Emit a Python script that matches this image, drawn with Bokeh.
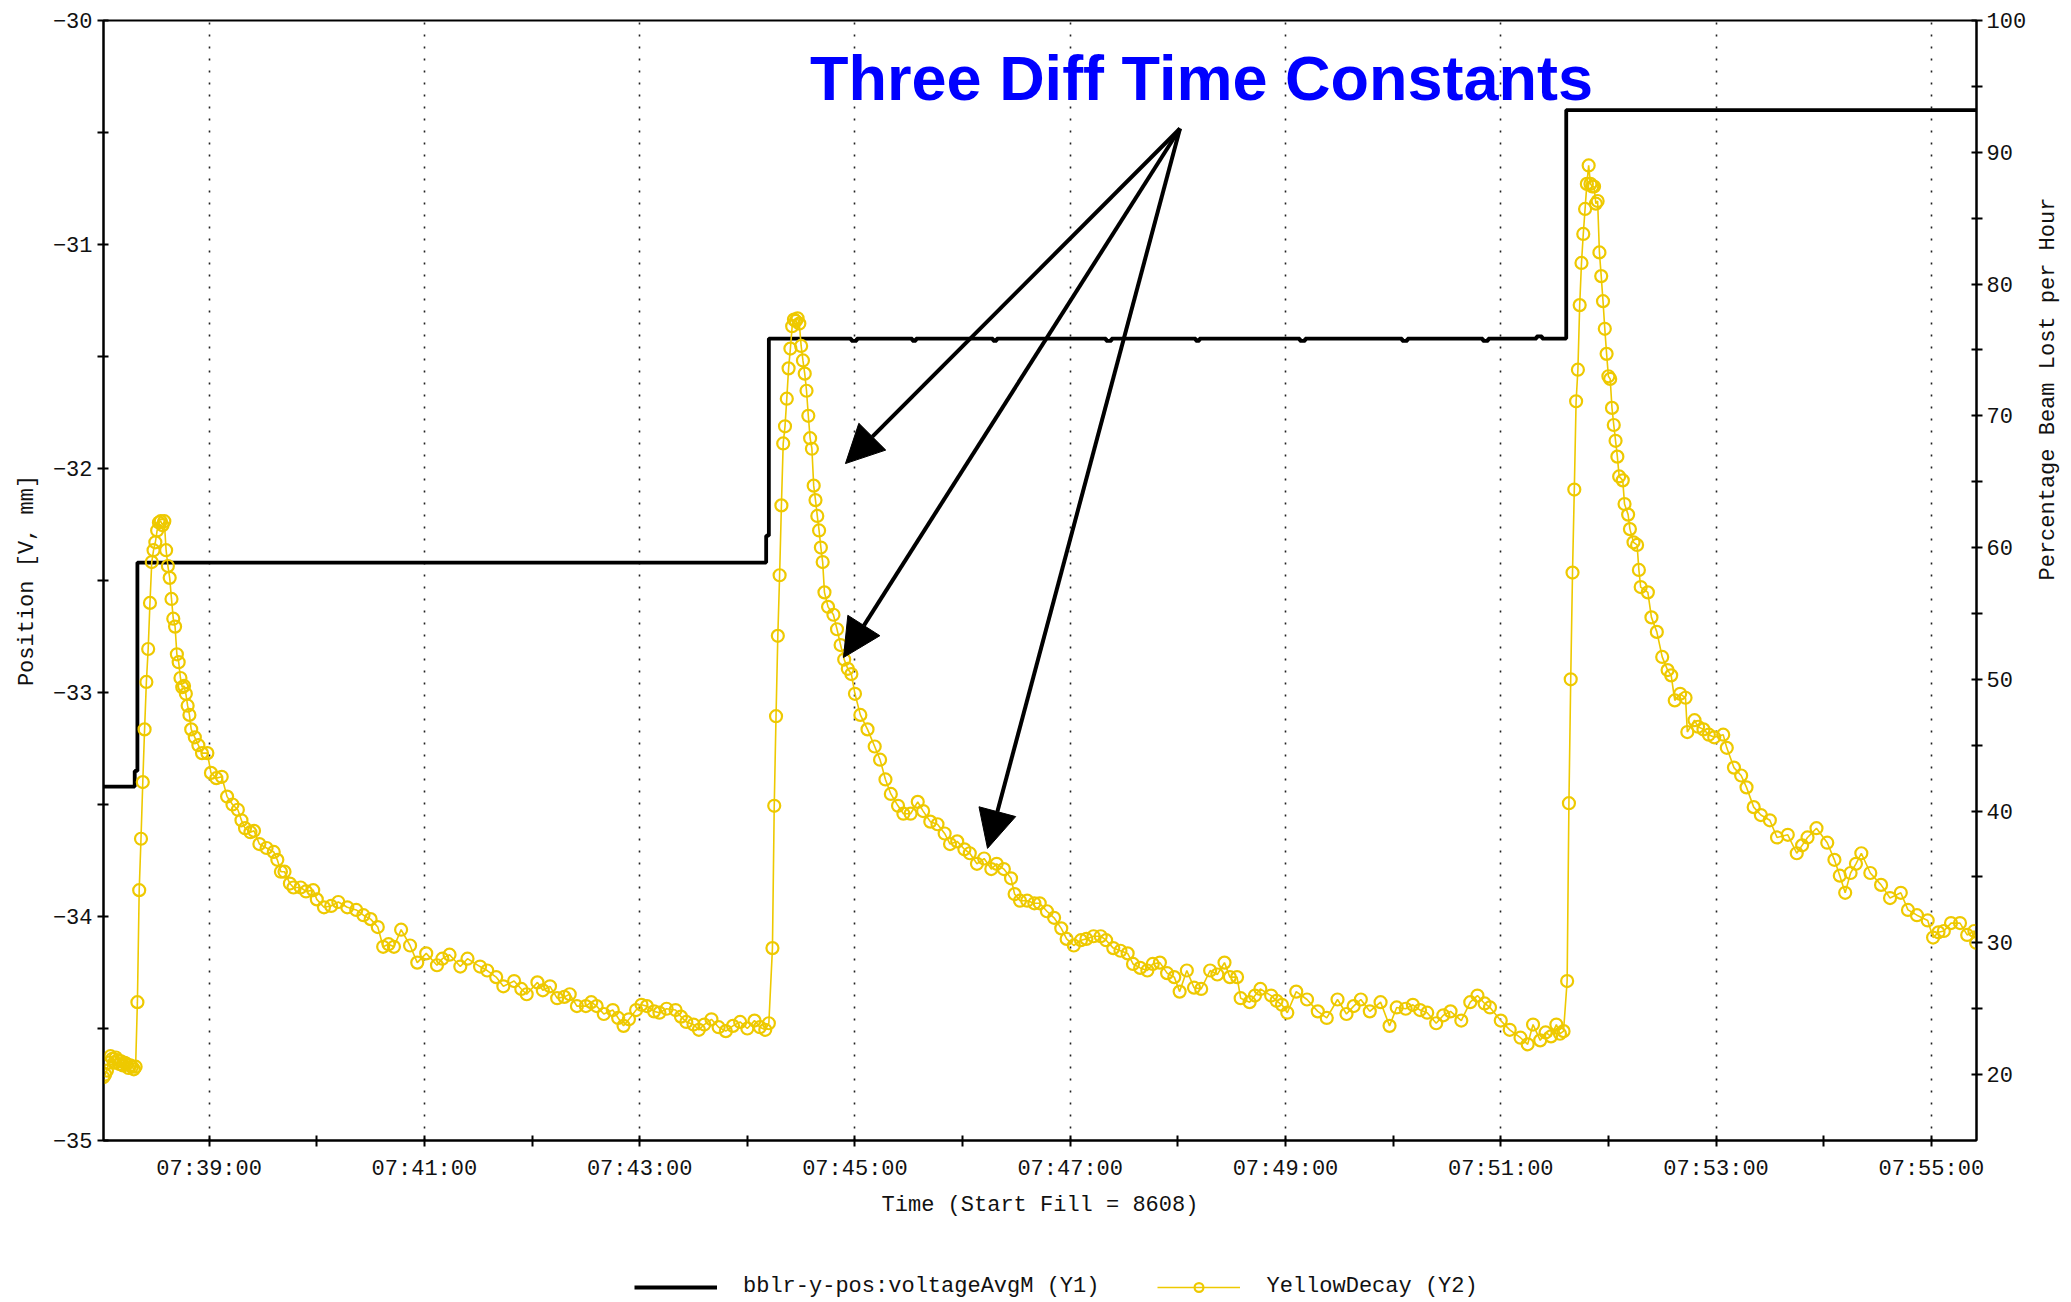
import math
import pandas as pd
from bokeh.plotting import figure
from bokeh.layouts import column
from bokeh.models import (Range1d, LinearAxis, FixedTicker, DatetimeTickFormatter,
                          Legend, LegendItem, Label, Arrow, NormalHead, ColumnDataSource)
from bokeh.embed import file_html
from bokeh.resources import INLINE

# ---------------- data ----------------
START = "2007-05-01 07:38:00"

# Y1: bblr-y-pos:voltageAvgM  (seconds after 07:38:00, position in mm) - step signal
black_sec = [0, 18.5, 20, 370.5, 372, 418, 421, 452, 454, 497, 499, 560, 563, 610, 612,
             668, 671, 725, 728, 770, 773, 800, 803, 816.5, 1046]
black_pos = [-33.42, -33.35, -32.42, -32.30, -31.42, -31.43, -31.42, -31.43, -31.42, -31.43,
             -31.42, -31.43, -31.42, -31.43, -31.42, -31.43, -31.42, -31.43, -31.42, -31.43,
             -31.42, -31.41, -31.42, -30.40, -30.40]

# Y2: YellowDecay (seconds after 07:38:00, percentage beam lost per hour)
yellow_sec = [
    1, 2, 3, 4, 5, 6, 7, 8, 9, 10, 11, 12, 13, 14, 15, 16, 17, 18, 19,
    20, 21, 22, 23, 24, 25, 26, 27, 28, 29, 30, 31, 32, 33, 34, 35, 36, 37, 38, 39,
    40, 41, 42, 43, 44, 45, 46, 47, 48, 49, 50, 52, 54, 56, 59, 61, 64, 67, 70, 73,
    76, 78, 80, 83, 85, 88, 92, 96, 98, 100, 102, 105, 107, 111, 114, 118, 120, 124,
    128, 132, 137, 142, 146, 150, 154, 157, 160, 163, 167, 172, 176, 181, 187, 190,
    194, 200, 204, 211, 215, 220, 224, 230, 234, 237, 243, 246, 250, 254, 258, 261,
    265, 270, 273, 276, 280, 285, 288, 291, 294, 298, 301, 304, 308, 311, 315, 320,
    323, 326, 330, 333, 336, 340, 344, 348, 352, 356, 360, 364, 367, 370, 372,
    374, 375, 376, 377, 378, 379, 380, 381, 382, 383, 384, 385, 386, 387, 388, 389,
    390, 391, 392, 393, 394, 395, 396, 397, 398, 399, 400, 401, 402, 403, 405, 408,
    410, 412, 414, 416, 418, 420, 423, 427, 431, 434, 437, 440, 444, 447, 451, 455,
    458, 462, 466, 470, 473, 477, 481, 484, 488, 492, 496, 499, 503, 507, 509, 512,
    516, 520, 523, 527, 531, 535, 538, 542, 546, 549, 553, 557, 560, 564, 568, 572,
    575, 579, 583, 586, 590, 594, 598, 601, 605, 609, 613, 618, 622, 626, 629, 633,
    635, 640, 643, 646, 652, 655, 658, 661, 666, 672, 678, 683, 689, 694, 698, 702,
    707, 713, 718, 722, 727, 731, 735, 739, 744, 748, 752, 758, 763, 767, 771, 774,
    780, 785, 791, 795, 798, 802, 805, 808, 811, 813, 815,
    817, 818, 819, 820, 821, 822, 823, 824, 825, 826, 827, 828, 829, 830, 831, 832,
    833, 834, 835, 836, 837, 838, 839, 840, 841, 842, 843, 844, 845, 846, 848, 849,
    851, 852, 854, 856, 857, 858, 862, 864, 867, 870, 873, 875, 877, 880, 883, 884,
    888, 890, 893, 896, 899, 904, 906, 910, 914, 917, 921, 925, 930, 934, 940, 945,
    948, 951, 956, 962, 966, 969, 972, 975, 978, 981, 986, 992, 997, 1003, 1007, 1012,
    1018, 1021, 1024, 1027, 1031, 1036, 1040, 1044, 1045]
yellow_pct = [
    19.8, 20.0, 20.3, 20.9, 21.4, 21.2, 20.9, 21.3, 21.1, 20.8, 21.0, 20.7, 20.9, 20.8,
    20.5, 20.7, 20.6, 20.4, 20.6,
    25.5, 34.0, 37.9, 42.2, 46.2, 49.8, 52.3, 55.8, 58.9, 59.8, 60.4, 61.3, 61.9, 62.0,
    61.7, 62.0, 59.8, 58.6, 57.7, 56.1,
    54.6, 54.0, 51.9, 51.3, 50.1, 49.4, 49.5, 48.9, 48.0, 47.3, 46.2, 45.6, 45.0, 44.4,
    44.4, 42.9, 42.5, 42.6, 41.1, 40.5,
    40.1, 39.3, 38.7, 38.4, 38.5, 37.5, 37.2, 36.9, 36.3, 35.4, 35.4, 34.5, 34.2, 34.2,
    33.9, 34.0, 33.3, 32.7,
    32.8, 33.1, 32.7, 32.5, 32.1, 31.8, 31.2, 29.7, 29.9, 29.7, 31.0, 29.8, 28.5, 29.2,
    28.3, 28.8,
    29.1, 28.2, 28.8, 28.2, 27.9, 27.4, 26.7, 27.1, 26.5, 26.1, 27.0, 26.4, 26.7, 25.8,
    25.9, 26.1,
    25.2, 25.2, 25.5, 25.2, 24.6, 24.9, 24.3, 23.7, 24.2, 24.9, 25.3, 25.2, 24.8, 24.7,
    25.0, 24.9,
    24.4, 24.0, 23.8, 23.4, 23.8, 24.2, 23.6, 23.3, 23.7, 24.0, 23.5, 24.1, 23.6, 23.4,
    23.9,
    29.6, 40.4, 47.2, 53.3, 57.9, 63.2, 67.9, 69.2, 71.3, 73.6, 75.1, 76.8, 77.3, 77.2,
    77.4, 77.0,
    75.3, 74.2, 73.2, 71.9, 70.0, 68.3, 67.5, 64.7, 63.6, 62.4, 61.3, 60.0, 58.9, 56.6,
    55.5, 54.9,
    53.8, 52.6, 51.5, 50.8, 50.4, 48.9, 47.3, 46.2, 44.9, 43.9, 42.4, 41.3, 40.4, 39.8,
    39.8, 40.7,
    40.0, 39.2, 39.0, 38.3, 37.5, 37.7, 37.1, 36.8, 36.0, 36.4, 35.6, 36.0, 35.6, 34.9,
    33.7, 33.2,
    33.2, 33.0, 33.0, 32.4, 31.9, 31.1, 30.3, 29.8, 30.2, 30.3, 30.5, 30.5, 30.2, 29.6,
    29.4, 29.2,
    28.4, 28.1, 27.9, 28.4, 28.5, 27.7, 27.4, 26.3, 27.9, 26.6, 26.5, 27.9, 27.6, 28.5,
    27.4, 27.4,
    25.8, 25.5, 26.0, 26.5, 26.0, 25.6, 25.3, 24.7, 26.3, 25.7, 24.8, 24.3, 25.7, 24.6,
    25.2, 25.7,
    24.8, 25.5, 23.7, 25.1, 25.0, 25.3, 24.9, 24.7, 23.9, 24.5, 24.8, 24.1, 25.5, 26.0,
    25.4, 25.1,
    24.1, 23.4, 22.8, 22.3, 23.8, 22.6, 23.2, 22.9, 23.8, 23.1, 23.3,
    27.1, 40.6, 50.0, 58.1, 64.4, 71.1, 73.5, 78.4, 81.6, 83.8, 85.7, 87.6, 89.0, 87.6,
    87.4, 87.4,
    86.1, 86.3, 82.4, 80.6, 78.7, 76.6, 74.7, 73.0, 72.8, 70.6, 69.3, 68.1, 66.9, 65.4,
    65.1, 63.3,
    62.5, 61.4, 60.4, 60.2, 58.3, 57.0, 56.6, 54.7, 53.6, 51.7, 50.7, 50.3, 48.4, 48.9,
    48.6, 46.0,
    46.9, 46.4, 46.2, 45.8, 45.6, 45.8, 44.8, 43.3, 42.7, 41.8, 40.3, 39.7, 39.3, 38.0,
    38.2, 36.8,
    37.4, 38.0, 38.7, 37.6, 36.3, 35.1, 33.8, 35.3, 36.0, 36.8, 35.3, 34.4, 33.4, 33.8,
    32.5, 32.1,
    31.7, 30.4, 30.8, 30.9, 31.5, 31.5, 30.6, 30.9, 30.0]

# axes
x_major_ticks = ["07:39:00", "07:41:00", "07:43:00", "07:45:00", "07:47:00",
                 "07:49:00", "07:51:00", "07:53:00", "07:55:00"]
x_minor_ticks = ["07:40:00", "07:42:00", "07:44:00", "07:46:00", "07:48:00",
                 "07:50:00", "07:52:00", "07:54:00"]
y1_ticks = [-35, -34, -33, -32, -31, -30]
y1_minor = [-34.5, -33.5, -32.5, -31.5, -30.5]
y2_ticks = [20, 30, 40, 50, 60, 70, 80, 90, 100]
y2_minor = [25, 35, 45, 55, 65, 75, 85, 95]

title_text = "Three Diff Time Constants"
y1_name = "bblr-y-pos:voltageAvgM (Y1)"
y2_name = "YellowDecay (Y2)"

# ---------------- helpers ----------------
base = pd.Timestamp(START)
day = START.split(" ")[0]


def to_dt(secs):
    return base + pd.to_timedelta(pd.Series(secs, dtype=float), unit="s")


def ms(ts):
    return pd.Timestamp(ts).value / 1e6


def hms_ms(s):
    return ms(day + " " + s)


def sec_ms(s):
    return ms(base + pd.Timedelta(seconds=s))


black_src = ColumnDataSource(dict(t=to_dt(black_sec), v=black_pos))
yellow_src = ColumnDataSource(dict(t=to_dt(yellow_sec), v=yellow_pct))

YELLOW = "#EEC900"
MONO = "Liberation Mono"

p = figure(frame_width=1873, frame_height=1120, x_axis_type="datetime",
           x_range=Range1d(sec_ms(1.1), sec_ms(1045.2)), y_range=Range1d(-35, -30),
           output_backend="svg", toolbar_location=None,
           min_border_left=103, min_border_right=95, min_border_top=20, min_border_bottom=80)
p.extra_y_ranges = {"y2": Range1d(15, 100)}
p.background_fill_color = "white"
p.border_fill_color = "white"
p.outline_line_color = "black"
p.outline_line_width = 2

# x axis
xticker = FixedTicker(ticks=[hms_ms(s) for s in x_major_ticks],
                      minor_ticks=[hms_ms(s) for s in x_minor_ticks])
p.xaxis.ticker = xticker
fmt = "%H:%M:%S"
p.xaxis.formatter = DatetimeTickFormatter(microseconds=fmt, milliseconds=fmt, seconds=fmt,
                                          minsec=fmt, minutes=fmt, hourmin=fmt, hours=fmt,
                                          days=fmt, months=fmt, years=fmt)
p.xaxis.axis_label = "Time (Start Fill = 8608)"
p.xgrid.ticker = xticker
p.xgrid.grid_line_color = "#222222"
p.xgrid.grid_line_dash = "2 10"
p.xgrid.grid_line_width = 1.6
p.ygrid.grid_line_color = None

# left axis
p.yaxis.ticker = FixedTicker(ticks=y1_ticks, minor_ticks=y1_minor)
p.yaxis.axis_label = "Position [V, mm]"

# right axis
y2axis = LinearAxis(y_range_name="y2", axis_label="Percentage Beam Lost per Hour",
                    ticker=FixedTicker(ticks=y2_ticks, minor_ticks=y2_minor))
if "axis_label_orientation" in y2axis.properties():
    y2axis.axis_label_orientation = math.pi / 2
p.add_layout(y2axis, "right")

for ax in [p.xaxis[0], p.yaxis[0], y2axis]:
    ax.axis_line_color = "black"
    ax.axis_line_width = 2
    ax.major_tick_line_color = "black"
    ax.minor_tick_line_color = "black"
    ax.major_tick_line_width = 2
    ax.minor_tick_line_width = 2
    ax.major_tick_in = 5
    ax.major_tick_out = 6
    ax.minor_tick_in = 5
    ax.minor_tick_out = 6
    ax.major_label_text_font = MONO
    ax.major_label_text_font_size = "22px"
    ax.major_label_text_color = "#111111"
    ax.axis_label_text_font = MONO
    ax.axis_label_text_font_size = "22px"
    ax.axis_label_text_font_style = "normal"
    ax.axis_label_text_color = "#111111"

p.xaxis.major_label_standoff = 10
p.xaxis.axis_label_standoff = 8
p.yaxis.major_label_standoff = 5
p.yaxis.axis_label_standoff = 10
y2axis.major_label_standoff = 4
y2axis.axis_label_standoff = 19

# data
p.step("t", "v", source=black_src, mode="after", line_color="black", line_width=3.8)
p.line("t", "v", source=yellow_src, y_range_name="y2", line_color=YELLOW, line_width=1.6)
p.scatter("t", "v", source=yellow_src, y_range_name="y2", marker="circle",
          size=12, line_color=YELLOW, line_width=2.2, fill_color=None)

# annotation title & arrows
p.add_layout(Label(x=sec_ms(613.2), y=-30.256, text=title_text, text_font="Liberation Sans",
                   text_font_style="bold", text_font_size="63px", text_color="#0000FF",
                   text_align="center", text_baseline="alphabetic"))
arrow_start = (601.2, -30.482)
arrow_ends = [(414.7, -31.978), (413.6, -32.844), (493.9, -33.696)]
for ex, ey in arrow_ends:
    p.add_layout(Arrow(end=NormalHead(size=38, fill_color="black", line_color="black"),
                       x_start=sec_ms(arrow_start[0]), y_start=arrow_start[1],
                       x_end=sec_ms(ex), y_end=ey, line_color="black", line_width=4))

# ---------------- legend strip below the chart ----------------
# legend-only panel: its sample renderers sit outside the visible range of this strip
lf = figure(frame_width=2071, frame_height=80, x_range=Range1d(0, 1), y_range=Range1d(0, 1),
            x_axis_location=None, y_axis_location=None, output_backend="svg",
            toolbar_location=None, min_border=0)
lf.xgrid.visible = False
lf.ygrid.visible = False
lf.outline_line_color = None
lf.background_fill_color = "white"
lf.border_fill_color = "white"
key_src = ColumnDataSource(dict(x=[-5.0, -4.0], y=[-5.0, -4.0]))
lg_black = lf.line("x", "y", source=key_src, line_color="black", line_width=3.8)
lg_yline = lf.line("x", "y", source=key_src, line_color=YELLOW, line_width=1.6)
lg_ymark = lf.scatter("x", "y", source=key_src, marker="circle", size=12, line_color=YELLOW,
                      line_width=2.2, fill_color=None)
legend = Legend(items=[LegendItem(label=y1_name, renderers=[lg_black]),
                       LegendItem(label=y2_name, renderers=[lg_yline, lg_ymark])],
                location=(634, 1), orientation="horizontal",
                glyph_width=83, glyph_height=22, label_height=22, label_standoff=26,
                spacing=58, padding=4, margin=0,
                label_text_font=MONO, label_text_font_size="22px",
                label_text_color="#111111",
                border_line_color=None, background_fill_alpha=0)
lf.add_layout(legend)

open("out.html", "w").write(file_html(column(p, lf, spacing=0), INLINE))
